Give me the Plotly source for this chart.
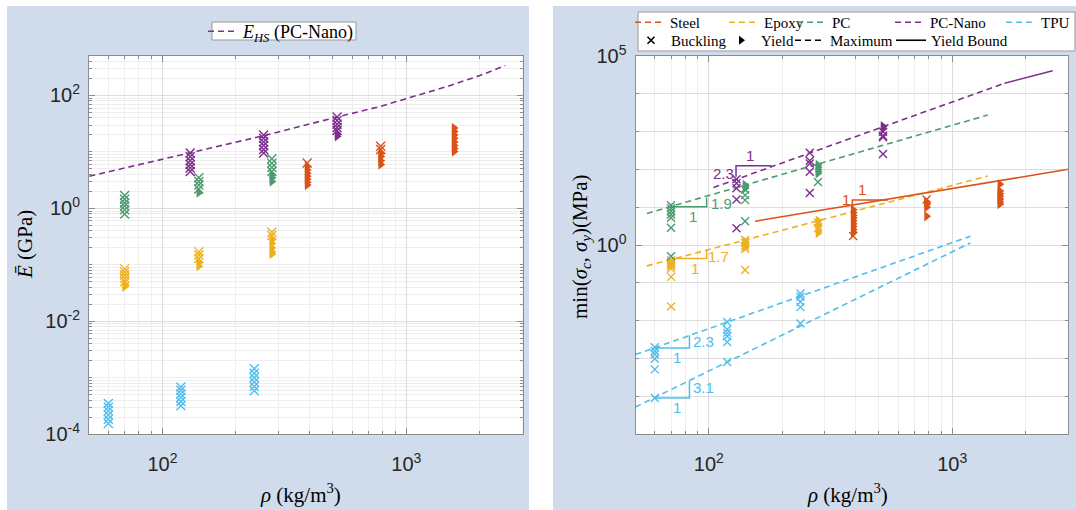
import numpy as np
import plotly.graph_objects as go

W, H = 1076, 510

C_STEEL = "#D95319"
C_EPOXY = "#EDB120"
C_PC = "#4E9A6F"
C_NANO = "#7E2F8E"
C_TPU = "#4DBEEE"

# ---------------- data: left panel (E vs rho) ----------------
rho_hs = [50.2, 130, 260, 520, 783, 1000, 1476, 2000, 2547]
E_hs = [3.72, 9.6, 19.4, 41.5, 64, 88, 145, 225, 338]

rho_steel = [392, 785, 1570]
E_steel_buck = [[6.4], [12.6, 11.0], []]
E_steel_yield = [[5.5, 4.8, 4.2, 3.7, 3.3, 2.9, 2.6], [9.5, 8.3, 7.0, 6.0],
                 [26.5, 23, 20, 17.5, 15, 13, 11.5, 10.2]]
rho_epoxy = [70, 141, 281]
E_epoxy_buck = [[0.085, 0.075, 0.066, 0.058, 0.051], [0.17, 0.15, 0.13], [0.38, 0.33]]
E_epoxy_yield = [[0.046, 0.041], [0.11, 0.095], [0.28, 0.24, 0.2, 0.17, 0.155]]
rho_pc = [70, 141, 281]
E_pc_buck = [[1.7, 1.45, 1.25, 1.1, 0.95, 0.8], [3.5, 3.0, 2.6, 2.2], [7.6, 6.3, 5.3, 4.5]]
E_pc_yield = [[], [1.9], [4.0, 3.5, 3.0]]
rho_nano = [130, 260, 520]
E_nano_buck = [[9.6, 8.2, 7.0, 6.0, 5.2, 4.5], [20, 17.5, 15, 13, 11, 9.6], [41.5, 36, 31, 27, 24]]
E_nano_yield = [[], [], [21, 19]]
rho_tpu = [60, 119, 238]
E_tpu_buck = [[3.5e-4, 3.0e-4, 2.6e-4, 2.2e-4, 1.85e-4, 1.55e-4],
              [6.9e-4, 6.0e-4, 5.2e-4, 4.5e-4, 3.8e-4, 3.2e-4],
              [1.45e-3, 1.2e-3, 1.0e-3, 8.4e-4, 7.0e-4, 5.9e-4]]
E_tpu_yield = [[], [], []]

# ---------------- data: right panel (strength vs rho) ----------------
S_steel_buck = [[1.75], [16.0], []]
S_steel_yield = [[8.6, 7.2, 6.1, 5.2, 4.4, 3.7, 3.1, 2.6, 2.2], [14, 12, 10, 5.8],
                 [41, 27, 23, 19.5, 16.5, 14, 12.2]]
S_epoxy_buck = [[0.40, 0.35, 0.31, 0.28, 0.24, 0.145, 0.024], [1.36, 1.15, 0.95, 0.8, 0.22], [3.9, 2.8]]
S_epoxy_yield = [[], [1.25, 1.05, 0.88], [4.4, 3.7, 3.1, 2.55, 2.1]]
S_pc_buck = [[11.4, 9.5, 7.9, 6.5, 5.3, 2.9, 0.51], [29.5, 21, 15.5, 4.3], [47]]
S_pc_yield = [[], [39, 35, 32], [132, 115, 100, 88, 79]]
S_nano_buck = [[55, 43, 32, 16, 2.8], [277, 170, 145, 87, 24], [1000, 780, 710, 255]]
S_nano_yield = [[], [], [1400, 1200]]
S_tpu_buck = [[2.0e-3, 1.6e-3, 1.3e-3, 1.0e-3, 5.2e-4, 9.1e-5],
              [9.3e-3, 5.9e-3, 4.8e-3, 3.9e-3, 2.75e-3, 8.1e-4],
              [0.053, 0.043, 0.032, 0.023, 8.5e-3]]
S_tpu_yield = [[], [], []]

# bound / maximum lines (rho, sigma)
nano_max_rho, nano_max_s = [104.5, 1641], [33.3, 19000]
nano_bound_rho, nano_bound_s = [1641, 2588], [19000, 40800]
pc_max_rho, pc_max_s = [55.7, 1400], [6.9, 2750]
epoxy_max_rho, epoxy_max_s = [55.7, 1400], [0.283, 67]
steel_bound_rho, steel_bound_s = [155, 3000], [4.3, 101]
tpu_max1_rho, tpu_max1_s = [50, 1189], [1.28e-3, 1.73]
tpu_max2_rho, tpu_max2_s = [50, 1189], [5.27e-5, 1.15]

# slope triangles (rho path, sigma path)
tri_pc = ([70, 98, 98], [10.3, 10.3, 17.8])
tri_epoxy = ([70, 98, 98], [0.445, 0.445, 0.77])
tri_nano = ([129.4, 129.4, 181], [64, 125, 125])
tri_steel = ([389, 389, 545], [10.3, 15.5, 15.5])
tri_tpu1 = ([59.3, 83.3, 83.3], [1.92e-3, 1.92e-3, 4.16e-3])
tri_tpu2 = ([59.3, 83.3, 83.3], [9.1e-5, 9.1e-5, 2.57e-4])

slope_labels = [
    ("1.9", 113, 12.7, C_PC), ("1", 86.5, 5.85, C_PC),
    ("1.7", 109.5, 0.51, C_EPOXY), ("1", 87.9, 0.242, C_EPOXY),
    ("2.3", 114.8, 79, C_NANO), ("1", 147.6, 240, C_NANO),
    ("1", 365, 16.2, C_STEEL), ("1", 427, 29.8, C_STEEL),
    ("2.3", 94.8, 2.77e-3, C_TPU), ("1", 74.2, 1.07e-3, C_TPU),
    ("3.1", 94.8, 1.72e-4, C_TPU), ("1", 74.2, 5.1e-5, C_TPU),
]


def flat(rhos, groups):
    xs, ys = [], []
    for r, g in zip(rhos, groups):
        for v in g:
            xs.append(r)
            ys.append(v)
    return xs, ys


fig = go.Figure()
DASH = "6px,4px"
LW = 1.6

materials = [
    (C_STEEL, rho_steel, E_steel_buck, E_steel_yield, S_steel_buck, S_steel_yield),
    (C_EPOXY, rho_epoxy, E_epoxy_buck, E_epoxy_yield, S_epoxy_buck, S_epoxy_yield),
    (C_PC, rho_pc, E_pc_buck, E_pc_yield, S_pc_buck, S_pc_yield),
    (C_NANO, rho_nano, E_nano_buck, E_nano_yield, S_nano_buck, S_nano_yield),
    (C_TPU, rho_tpu, E_tpu_buck, E_tpu_yield, S_tpu_buck, S_tpu_yield),
]

# left: E_HS curve
fig.add_trace(go.Scatter(x=rho_hs, y=E_hs, mode="lines", xaxis="x", yaxis="y",
                         line=dict(color=C_NANO, width=LW, dash=DASH),
                         name="<i>E</i><sub><i>HS</i></sub> (PC-Nano)", legend="legend"))

# right: lines
def rline(x, y, c, dash=True):
    fig.add_trace(go.Scatter(x=x, y=y, mode="lines", xaxis="x2", yaxis="y2", showlegend=False,
                             line=dict(color=c, width=LW, dash=DASH if dash else "solid")))

rline(nano_max_rho, nano_max_s, C_NANO)
rline(nano_bound_rho, nano_bound_s, C_NANO, False)
rline(pc_max_rho, pc_max_s, C_PC)
rline(epoxy_max_rho, epoxy_max_s, C_EPOXY)
rline(steel_bound_rho, steel_bound_s, C_STEEL, False)
rline(tpu_max1_rho, tpu_max1_s, C_TPU)
rline(tpu_max2_rho, tpu_max2_s, C_TPU)

for tri, c in [(tri_pc, C_PC), (tri_epoxy, C_EPOXY), (tri_nano, C_NANO), (tri_steel, C_STEEL),
               (tri_tpu1, C_TPU), (tri_tpu2, C_TPU)]:
    fig.add_trace(go.Scatter(x=tri[0], y=tri[1], mode="lines", xaxis="x2", yaxis="y2",
                             showlegend=False, line=dict(color=c, width=1.5)))

# markers
for c, rh, eb, ey, sb, sy in materials:
    for (ax, ay, grp, sym) in [("x", "y", eb, "x"), ("x", "y", ey, "t"),
                               ("x2", "y2", sb, "x"), ("x2", "y2", sy, "t")]:
        xs, ys = flat(rh, grp)
        if not xs:
            continue
        if sym == "x":
            mk = dict(symbol="x-thin-open", size=9 if ax == "x" else 8, color=c,
                      line=dict(color=c, width=1.4))
        else:
            mk = dict(symbol="triangle-right", size=9, color=c, line=dict(width=0))
        fig.add_trace(go.Scatter(x=xs, y=ys, mode="markers", xaxis=ax, yaxis=ay,
                                 showlegend=False, marker=mk))

# right legend: one legend per cell (name, kind, colour, dash, origin-x px, top-y px, anchor)
leg_entries = [
    ("Steel", "line", C_STEEL, DASH, 630, 6, "left"),
    ("Buckling", "x", "black", None, 631, 24, "left"),
    ("Epoxy", "line", C_EPOXY, DASH, 724, 6, "left"),
    ("Yield", "t", "black", None, 721, 24, "left"),
    ("PC", "line", C_PC, DASH, 792, 6, "left"),
    ("Maximum", "line", "black", DASH, 790, 24, "left"),
    ("PC-Nano", "line", C_NANO, DASH, 890, 6, "left"),
    ("Yield Bound", "line", "black", "solid", 891, 24, "left"),
    ("TPU", "line", C_TPU, DASH, 1075, 6, "right"),
]

def px_x(p):
    return p / W

def px_y(p):
    return 1 - p / H

SERIF = "Liberation Serif, Times New Roman, serif"

def leg(xpx, ypx, xanchor="left", size=15):
    return dict(x=px_x(xpx), y=px_y(ypx), xanchor=xanchor, yanchor="top", xref="paper", yref="paper",
                bgcolor="rgba(0,0,0,0)", borderwidth=0, font=dict(family=SERIF, size=size, color="black"),
                traceorder="normal", itemwidth=30, tracegroupgap=0)

legend_layouts = {}
for i, (name, kind, c, d, lx, ly, anc) in enumerate(leg_entries):
    lg = "legend%d" % (i + 2)
    legend_layouts[lg] = leg(lx, ly, anc)
    if kind == "line":
        fig.add_trace(go.Scatter(x=[None], y=[None], mode="lines", xaxis="x2", yaxis="y2",
                                 name=name, legend=lg, line=dict(color=c, width=LW, dash=d)))
    elif kind == "x":
        fig.add_trace(go.Scatter(x=[None], y=[None], mode="markers", xaxis="x2", yaxis="y2",
                                 name=name, legend=lg,
                                 marker=dict(symbol="x-thin-open", size=7, color=c, line=dict(color=c, width=1.6))))
    else:
        fig.add_trace(go.Scatter(x=[None], y=[None], mode="markers", xaxis="x2", yaxis="y2",
                                 name=name, legend=lg,
                                 marker=dict(symbol="triangle-right", size=8, color=c)))

# ---------------- layout ----------------
L_X = [px_x(89), px_x(522.7)]
R_X = [px_x(635.5), px_x(1068.3)]
Y_D = [px_y(434.3), px_y(56)]

AXC = "#8c8c8c"
GRID = "#dddddd"
MGRID = "#eeeeee"
TICKF = dict(family="Liberation Sans, Arial, sans-serif", size=20, color="#262626")

def decade_minor(lo_exp, hi_exp, skip, lo=None, hi=None):
    vals = []
    for e in range(lo_exp, hi_exp + 1):
        for m in range(1, 10):
            v = m * 10.0 ** e
            if lo is not None and v < lo * 0.999:
                continue
            if hi is not None and v > hi * 1.001:
                continue
            if any(abs(v - s) / s < 1e-6 for s in skip):
                continue
            vals.append(v)
    return vals

minor_x = decade_minor(1, 3, [100, 1000], 50, 3000)
minor_yl = decade_minor(-4, 2, [1e-4, 1e-2, 1, 100], 1e-4, 500)
minor_yr = [10.0 ** e for e in range(-5, 5) if e not in (0,)]

def axis_common():
    return dict(type="log", showline=True, linecolor=AXC, linewidth=1, mirror="ticks",
                ticks="inside", ticklen=6, tickcolor=AXC, tickfont=TICKF, automargin=False,
                showgrid=True, gridcolor=GRID, gridwidth=1, zeroline=False)

xl = axis_common()
xl.update(domain=L_X, anchor="y", range=[np.log10(50), np.log10(3000)],
          tickvals=[100, 1000], ticktext=["10<sup>2</sup>", "10<sup>3</sup>"],
          ticklabelstandoff=12,
          minor=dict(tickvals=minor_x, ticks="inside", ticklen=3, tickcolor=AXC,
                     showgrid=True, gridcolor=MGRID))
yl = axis_common()
yl.update(domain=Y_D, anchor="x", range=[-4, np.log10(500)],
          tickvals=[1e-4, 1e-2, 1, 100],
          ticktext=["10<sup>-4</sup>", "10<sup>-2</sup>", "10<sup>0</sup>", "10<sup>2</sup>"],
          ticklabelstandoff=4,
          minor=dict(tickvals=minor_yl, ticks="inside", ticklen=3, tickcolor=AXC,
                     showgrid=True, gridcolor=MGRID))
xr = axis_common()
xr.update(domain=R_X, anchor="y2", range=[np.log10(50), np.log10(3000)],
          tickvals=[100, 1000], ticktext=["10<sup>2</sup>", "10<sup>3</sup>"],
          ticklabelstandoff=12,
          minor=dict(tickvals=minor_x, ticks="inside", ticklen=3, tickcolor=AXC,
                     showgrid=True, gridcolor=MGRID))
yr = axis_common()
yr.update(domain=Y_D, anchor="x2", range=[-5, 5],
          tickvals=[1, 1e5], ticktext=["10<sup>0</sup>", "10<sup>5</sup>"],
          ticklabelstandoff=4,
          minor=dict(tickvals=minor_yr, ticks="inside", ticklen=3, tickcolor=AXC,
                     showgrid=True, gridcolor=GRID))

BG = "#D0DCEB"
shapes = [
    dict(type="rect", xref="paper", yref="paper", x0=px_x(7), x1=px_x(529), y0=0, y1=px_y(6),
         fillcolor=BG, line=dict(width=0), layer="below"),
    dict(type="rect", xref="paper", yref="paper", x0=px_x(553), x1=1, y0=0, y1=px_y(6),
         fillcolor=BG, line=dict(width=0), layer="below"),
    dict(type="rect", xref="paper", yref="paper", x0=L_X[0], x1=L_X[1], y0=Y_D[0], y1=Y_D[1],
         fillcolor="white", line=dict(width=0), layer="below"),
    dict(type="rect", xref="paper", yref="paper", x0=R_X[0], x1=R_X[1], y0=Y_D[0], y1=Y_D[1],
         fillcolor="white", line=dict(width=0), layer="below"),
    # legend boxes
    dict(type="rect", xref="paper", yref="paper", x0=px_x(212), x1=px_x(356), y0=px_y(40), y1=px_y(22),
         fillcolor="white", line=dict(color="#9a9a9a", width=1), layer="above"),
    dict(type="rect", xref="paper", yref="paper", x0=px_x(638), x1=px_x(1075), y0=px_y(51), y1=px_y(12),
         fillcolor="white", line=dict(color="#9a9a9a", width=1), layer="above"),
]

annotations = [
    dict(text="<i>ρ</i> (kg/m<sup>3</sup>)", x=px_x(300), y=px_y(493), xref="paper", yref="paper",
         showarrow=False, font=dict(family=SERIF, size=21, color="black"), xanchor="center", yanchor="middle"),
    dict(text="<i>ρ</i> (kg/m<sup>3</sup>)", x=px_x(847), y=px_y(493), xref="paper", yref="paper",
         showarrow=False, font=dict(family=SERIF, size=21, color="black"), xanchor="center", yanchor="middle"),
    dict(text="<i>Ē</i> (GPa)", x=px_x(25), y=px_y(245), xref="paper", yref="paper", textangle=-90,
         showarrow=False, font=dict(family=SERIF, size=21, color="black"), xanchor="center", yanchor="middle"),
    dict(text="min(<i>σ</i><sub><i>c</i></sub>, <i>σ</i><sub><i>y</i></sub>)(MPa)", x=px_x(581), y=px_y(247),
         xref="paper", yref="paper", textangle=-90,
         showarrow=False, font=dict(family=SERIF, size=21, color="black"), xanchor="center", yanchor="middle"),
]
for txt, r, s, c in slope_labels:
    annotations.append(dict(text=txt, x=np.log10(r), y=np.log10(s), xref="x2", yref="y2", showarrow=False,
                            font=dict(family="Liberation Sans, Arial, sans-serif", size=15, color=c),
                            xanchor="center", yanchor="middle"))

fig.update_layout(
    width=W, height=H, autosize=False,
    margin=dict(l=0, r=0, t=0, b=0),
    paper_bgcolor="white", plot_bgcolor="rgba(0,0,0,0)",
    xaxis=xl, yaxis=yl, xaxis2=xr, yaxis2=yr,
    shapes=shapes, annotations=annotations,
    legend=leg(203, 13, "left", 18),
    showlegend=True,
    **legend_layouts,
)

fig.write_html("out.html", config={"displayModeBar": False},
               post_script="document.body.style.margin='0px';document.body.style.overflow='hidden';")
